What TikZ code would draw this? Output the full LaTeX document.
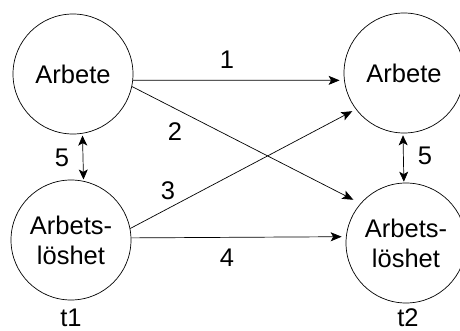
\documentclass[tikz,border=0pt]{standalone}
\usepackage{fontspec}
\setmainfont{Liberation Sans}
\usetikzlibrary{arrows.meta}
\begin{document}
\begin{tikzpicture}[x=1pt,y=-1pt,
  state/.style={draw,circle,minimum size=120pt,inner sep=0pt,line width=0.7pt,align=center,
    font=\fontsize{25.5}{30}\selectfont},
  lbl/.style={font=\fontsize{25.5}{30}\selectfont,inner sep=0pt},
  conn/.style={line width=0.7pt,-{Stealth[length=11pt,width=9pt,inset=2.5pt]}},
  bidir/.style={line width=0.7pt,{Stealth[length=10pt,width=9pt,inset=2.5pt]}-{Stealth[length=10pt,width=9pt,inset=2.5pt]}}]
\useasboundingbox (0,0) rectangle (460,331);
\node[state] (tl) at (73,74) {Arbete};
\node[state] (bl) at (71,240) {Arbets-\\löshet};
\node[state] (tr) at (404,73) {Arbete};
\node[state] (br) at (406,243) {Arbets-\\löshet};
\draw[conn,shorten >=4.5pt] (tl.-6.4) -- (tr.187.4);
\draw[conn,shorten >=8pt] (tl.-12.4) -- (br.139.8);
\draw[conn,shorten >=4pt] (bl.11.3) -- (tr.217.4);
\draw[conn,shorten >=4.3pt] (bl.2.8) -- (br.174.6);
\draw[bidir,shorten <=2pt,shorten >=1.5pt] (tl.279.6) -- (bl.78.5);
\draw[bidir,shorten <=2pt,shorten >=1pt] (tr.269) -- (br.92.9);
\node[lbl] (n1) at (227,60) {1};
\node[lbl] (n2) at (175,132) {2};
\node[lbl] (n3) at (168,191) {3};
\node[lbl] (n4) at (227,258) {4};
\node[lbl] (n5a) at (62,158) {5};
\node[lbl] (n5b) at (425,156) {5};
\node[lbl] (t1) at (71,318) {t1};
\node[lbl] (t2) at (408,318) {t2};
\end{tikzpicture}
\end{document}
